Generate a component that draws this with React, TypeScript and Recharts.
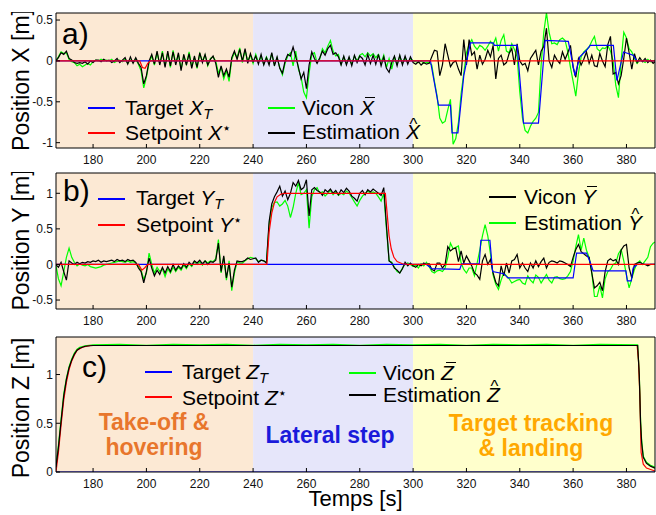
import React from 'react';
import { LineChart, Line, XAxis, YAxis, ReferenceArea } from 'recharts';

type Pt = [number, number];

// time axis (s) and flight phases
const T0 = 166; // first sample of the 1 s grids below
const X_DOMAIN: [number, number] = [166.1, 390.7];
const X_TICKS = [180, 200, 220, 240, 260, 280, 300, 320, 340, 360, 380];
const PHASE_EDGES = [166.1, 240, 300, 390.7];

// a) position X [m]
const X_VICON = [
  0.0, 0.05, 0.11, 0.09, 0.1, 0.02, -0.01, -0.02, -0.06, -0.04,
  -0.07, -0.05, -0.03, -0.05, -0.01, 0.01, 0.0, 0.02, 0.0, 0.01,
  0.0, 0.02, -0.02, 0.0, 0.01, -0.01, 0.02, -0.03, 0.01, -0.02,
  0.02, -0.04, -0.12, -0.33, -0.2, -0.02, 0.06, -0.05, 0.1, -0.04,
  0.12, -0.06, 0.1, -0.08, 0.13, -0.03, 0.08, -0.1, 0.06, -0.04,
  0.11, -0.07, 0.04, -0.09, 0.09, 0.0, 0.07, -0.06, 0.03, 0.05,
  0.0, -0.15, -0.08, -0.22, -0.12, -0.25, 0.02, 0.1, 0.04, 0.16,
  -0.02, 0.13, 0.0, 0.07, -0.03, 0.08, -0.02, 0.06, -0.04, 0.05,
  -0.03, 0.09, -0.05, 0.04, -0.08, -0.17, -0.03, 0.06, 0.1, -0.06,
  0.12, -0.1, -0.2, -0.38, -0.45, -0.15, 0.08, 0.1, -0.02, 0.02,
  0.15, 0.1, 0.18, 0.25, 0.12, 0.06, 0.08, -0.04, 0.05, -0.03,
  0.04, -0.04, 0.06, 0.0, 0.07, 0.09, 0.05, 0.1, 0.06, 0.09,
  0.04, 0.08, -0.02, 0.07, -0.08, 0.03, -0.1, 0.05, -0.04, 0.06,
  -0.03, 0.04, -0.02, 0.03, 0.0, -0.01, -0.02, 0.0, -0.03, -0.02,
  -0.02, -0.05, -0.25, -0.43, -0.7, -0.76, -0.74, -0.6, -0.47, -1.02,
  -0.95, -0.75, -0.4, -0.15, 0.1, 0.2, 0.26, 0.18, 0.14, 0.19,
  0.17, 0.13, 0.18, 0.24, 0.2, 0.28, 0.12, 0.25, 0.32, 0.12,
  0.1, 0.21, 0.14, 0.05, -0.38, -0.7, -0.85, -0.88, -0.8, -0.74,
  -0.7, -0.63, -0.05, 0.35, 0.59, 0.35, 0.21, 0.22, 0.2, 0.26,
  0.28, 0.25, 0.11, -0.08, -0.25, -0.43, -0.15, 0.05, 0.11, 0.14,
  0.17, 0.24, 0.3, 0.15, 0.12, 0.16, 0.15, 0.19, 0.12, 0.0,
  -0.3, -0.45, 0.0, 0.35, 0.28, 0.15, 0.11, 0.03, -0.03, 0.01,
  0.0, -0.02, 0.02, -0.01, 0.0, 0.01,
];
const X_EST = [
  0.0, 0.04, 0.1, 0.08, 0.12, 0.03, 0.01, -0.02, -0.03, -0.02,
  -0.03, -0.01, -0.04, 0.0, -0.02, 0.01, 0.01, -0.01, 0.02, 0.0,
  0.01, -0.02, 0.0, 0.03, -0.02, 0.01, 0.04, -0.04, 0.05, -0.03,
  0.04, -0.03, -0.08, -0.28, -0.18, 0.0, 0.08, -0.04, 0.12, -0.05,
  0.1, -0.08, 0.12, -0.06, 0.11, -0.05, 0.1, -0.12, 0.08, -0.05,
  0.09, -0.09, 0.06, -0.08, 0.1, -0.02, 0.08, -0.05, 0.02, 0.06,
  -0.03, -0.2, -0.06, -0.18, -0.1, -0.2, 0.04, 0.12, 0.02, 0.14,
  0.0, 0.15, -0.03, 0.09, -0.01, 0.06, -0.04, 0.08, -0.05, 0.04,
  -0.05, 0.1, -0.06, 0.05, -0.09, -0.15, 0.0, 0.08, 0.06, 0.17,
  0.05, -0.08, -0.22, -0.14, -0.34, -0.05, 0.11, 0.03, -0.03, 0.04,
  0.12, 0.07, 0.15, 0.19, 0.08, 0.1, 0.05, -0.05, 0.06, -0.05,
  0.05, -0.06, 0.07, -0.02, 0.06, 0.03, -0.05, 0.08, -0.03, 0.07,
  -0.04, 0.08, -0.06, 0.05, -0.09, -0.14, -0.02, 0.06, -0.06, 0.07,
  -0.05, 0.06, -0.04, 0.05, -0.02, -0.04, -0.01, -0.05, -0.02, -0.04,
  -0.03, 0.05, 0.13, 0.12, -0.18, -0.05, 0.21, 0.07, -0.07, -0.02,
  0.0, -0.1, -0.18, 0.26, -0.05, 0.26, 0.07, 0.11, -0.1, 0.07,
  -0.04, 0.02, 0.13, 0.05, 0.19, -0.22, 0.03, 0.07, -0.05, -0.02,
  0.09, 0.15, -0.05, 0.21, 0.0, -0.05, -0.03, -0.12, 0.03, 0.08,
  0.13, -0.05, 0.12, 0.18, 0.4, 0.0, -0.08, 0.07, 0.01, -0.03,
  0.11, 0.02, 0.1, 0.19, -0.08, -0.2, 0.03, -0.05, 0.02, 0.11,
  -0.03, 0.07, -0.06, -0.07, 0.09, 0.0, -0.07, 0.2, 0.3, -0.16,
  -0.14, -0.28, -0.18, 0.03, 0.28, 0.1, -0.1, 0.09, -0.02, 0.04,
  -0.01, 0.03, -0.02, 0.01, -0.03, 0.0,
];
const X_TARGET: Pt[] = [
  [166.1, 0], [306.5, 0], [309.5, -0.54], [314, -0.54], [314.6, -0.88], [316.8, -0.88],
  [319, -0.18], [321.5, 0.22], [330, 0.22], [330.5, 0.19], [339, 0.19], [341.4, -0.76],
  [347, -0.76], [349.5, 0.25], [358.2, 0.24], [360.7, -0.18], [362.5, 0.05], [365, 0.13],
  [366.4, 0.19], [375.1, 0.19], [376.4, -0.24], [378.9, 0.11], [382.5, 0.07], [383.9, 0],
  [390.7, 0],
];
const X_SETPOINT: Pt[] = [
  [166.1, 0], [197.5, 0], [198.5, -0.08], [199.5, -0.09], [200.5, -0.03], [201.5, 0], [390.7, 0],
];

// b) position Y [m]
const Y_VICON = [
  0.0, -0.04, 0.03, -0.1, -0.22, 0.05, 0.02, 0.0, 0.03, 0.01,
  0.03, 0.02, 0.04, 0.03, 0.05, 0.04, 0.06, 0.03, 0.05, 0.04,
  0.05, 0.06, 0.04, 0.07, 0.05, 0.06, 0.04, 0.07, 0.05, 0.06,
  0.03, -0.05, -0.1, -0.26, -0.1, 0.09, -0.05, -0.16, -0.08, -0.14,
  -0.04, -0.12, -0.03, -0.1, 0.0, -0.08, -0.02, -0.06, 0.01, -0.04,
  0.03, -0.01, 0.05, 0.02, 0.06, 0.01, 0.05, 0.0, 0.04, 0.03,
  0.06, 0.3, -0.1, 0.12, -0.19, 0.02, -0.32, -0.08, 0.05, 0.04,
  0.04, 0.06, 0.09, 0.07, 0.08, 0.09, 0.03, 0.06, 0.05, 0.02,
  0.6, 0.85, 0.95, 1.02, 1.1, 0.96, 1.03, 0.91, 1.0, 1.15,
  1.1, 1.18, 1.05, 1.08, 1.19, 0.68, 1.05, 1.08, 1.04, 1.02,
  0.97, 1.05, 1.02, 1.06, 1.0, 1.04, 0.98, 1.05, 1.01, 1.07,
  1.03, 0.96, 0.93, 0.89, 1.0, 1.04, 0.98, 1.05, 1.02, 1.06,
  1.03, 1.0, 0.97, 1.08, 0.55, 0.05, 0.02, -0.05, -0.08, -0.12,
  -0.06, 0.03, -0.02, 0.02, -0.02, -0.04, 0.0, -0.02, 0.02, 0.0,
  0.01, -0.07, -0.09, 0.02, 0.02, -0.05, 0.0, 0.25, 0.19, 0.22,
  0.23, 0.04, 0.19, 0.02, 0.12, 0.05,
  -0.02, -0.12, -0.15, -0.21, 0.05, 0.14, 0.0, 0.07, -0.12,
  -0.25, -0.3, -0.02, -0.16, 0.02, -0.12, 0.05, 0.07, 0.14, -0.05,
  0.02, -0.05, -0.1, 0.02, -0.05, 0.05, -0.03, 0.04, 0.09, -0.05,
  0.03, 0.05, 0.04, 0.02, 0.05, 0.04, 0.02, 0.0, -0.03, 0.1,
  0.21, 0.28, 0.18, 0.15, 0.12,
  0.1, -0.12, -0.33, -0.3, -0.25, -0.37, -0.1, 0.05,
  0.08, 0.05, 0.07, 0.0, 0.2, 0.26, 0.28, -0.05, -0.19, 0.0,
  0.02, 0.03, 0.01, 0.0, -0.02, 0.0, 0.0, 0.0,
];
const Y_EST = [
  0.0, -0.2, -0.3, -0.1, 0.1, 0.23, 0.1, 0.03, -0.02, 0.01,
  -0.01, -0.02, 0.0, -0.03, -0.04, -0.05, -0.04, -0.03, -0.01, 0.0,
  0.01, 0.02, 0.03, 0.04, 0.05, 0.04, 0.03, 0.05, 0.03, 0.04,
  0.02, -0.03, -0.08, -0.21, -0.12, 0.16, 0.0, -0.12, -0.04, -0.1,
  -0.06, -0.17, -0.06, -0.12, -0.04, -0.1, -0.04, -0.08, -0.01, -0.06,
  0.01, -0.03, 0.04, 0.0, 0.04, -0.01, 0.05, 0.02, 0.05, 0.04,
  0.08, 0.35, -0.12, 0.1, -0.22, 0.05, -0.37, -0.12, 0.04, 0.02,
  0.02, 0.05, 0.08, 0.1, 0.09, 0.08, 0.04, 0.06, 0.05, 0.03,
  0.55, 0.8, 0.87, 0.88, 0.82, 0.85, 0.9, 0.82, 0.66, 0.8,
  1.0, 1.15, 0.98, 1.0, 1.05, 0.51, 0.95, 1.05, 1.08, 1.0,
  1.02, 0.96, 1.0, 1.04, 0.98, 1.02, 0.97, 1.0, 0.98, 1.03,
  1.0, 0.94, 0.88, 0.82, 0.9, 0.96, 1.0, 1.03, 1.0, 1.02,
  1.0, 0.95, 0.89, 1.0, 0.5, 0.05, 0.03, -0.04, -0.1, -0.12,
  -0.05, 0.0, 0.02, 0.0, -0.03, -0.01, -0.05, 0.01, -0.02, 0.03,
  -0.03, -0.1, -0.12, -0.09, -0.08, -0.1, -0.05, 0.1, 0.3, 0.22,
  0.24, 0.26, 0.02, -0.07, -0.12, -0.05,
  -0.05, -0.16, 0.02, 0.2, 0.4, 0.56, 0.4, 0.15, -0.15,
  -0.28, -0.35, -0.22, -0.12, -0.16, -0.2, -0.26, -0.24, -0.22, -0.21,
  -0.26, -0.28, -0.16, -0.22, -0.26, -0.15, -0.18, -0.26, -0.2, -0.14,
  -0.22, -0.26, -0.18, -0.17, -0.2, -0.21, -0.2, -0.16, -0.1, 0.05,
  0.25, 0.42, 0.2, 0.37, 0.2,
  0.1, -0.12, -0.45, -0.45, -0.3, -0.47, -0.2, -0.1,
  -0.07, 0.0, 0.02, 0.15, 0.21, 0.05, -0.15, -0.33, -0.2, -0.07,
  0.02, 0.05, 0.0, 0.05, 0.1, 0.25, 0.3, 0.32,
];
const Y_TARGET: Pt[] = [
  [166.1, 0], [305, 0], [307, -0.06], [317.5, -0.07], [318.2, 0.01], [324.8, 0.01],
  [325.4, 0.34], [328.8, 0.34], [329.8, -0.1], [334, -0.13], [335.5, -0.19], [360, -0.19],
  [361.3, 0.16], [365, 0.16], [366.5, 0.02], [367.5, -0.09], [379.8, -0.09], [380.3, -0.23],
  [381.8, -0.23], [382.5, -0.05], [384, 0], [390.7, 0],
];
const Y_SETPOINT: Pt[] = [
  [166.1, 0], [197, 0], [198.3, -0.08], [199.3, -0.05], [200.5, 0], [245.2, 0], [246, 0.45],
  [247, 0.72], [248, 0.87], [249, 0.95], [250.5, 0.99], [252, 1], [289.6, 1], [290.3, 0.7],
  [291, 0.4], [291.8, 0.22], [292.8, 0.1], [294, 0.04], [296, 0.01], [298, 0], [390.7, 0],
];

// c) position Z [m]
const Z_VICON: Pt[] = [
  [166.1, 0.06], [167, 0.27], [168, 0.54], [169, 0.8], [170, 0.96], [171, 1.08], [172, 1.16],
  [173, 1.22], [174, 1.26], [175, 1.28], [177, 1.295], [180, 1.305], [190, 1.31], [200, 1.3],
  [210, 1.31], [220, 1.305], [230, 1.31], [240, 1.3], [250, 1.31], [260, 1.305], [270, 1.31],
  [280, 1.3], [290, 1.31], [300, 1.305], [310, 1.31], [320, 1.3], [330, 1.31], [340, 1.305],
  [350, 1.31], [360, 1.3], [370, 1.31], [384.2, 1.305], [384.8, 1.0], [385.3, 0.52],
  [385.7, 0.32], [386.3, 0.16], [387.5, 0.1], [389, 0.07], [390.7, 0.05],
];
const Z_EST: Pt[] = [
  [166.1, 0.05], [167, 0.25], [168, 0.52], [169, 0.78], [170, 0.95], [171, 1.07], [172, 1.15],
  [173, 1.21], [174, 1.25], [175, 1.27], [177, 1.29], [180, 1.298], [384.2, 1.298],
  [384.8, 1.0], [385.3, 0.5], [385.7, 0.3], [386.3, 0.15], [387.5, 0.09], [389, 0.06],
  [390.7, 0.04],
];
const Z_TARGET: Pt[] = [[166.1, 0], [390.7, 0]];
const Z_SETPOINT: Pt[] = [
  [166.1, 0], [167, 0.2], [168, 0.48], [169, 0.74], [170, 0.92], [171, 1.05], [172, 1.14],
  [173, 1.2], [174, 1.25], [176, 1.28], [179, 1.298], [384, 1.298], [384.5, 1.15], [385, 0.8],
  [385.5, 0.2], [386.3, 0.08], [387.5, 0.04], [390.7, 0.01],
];

const BLUE = '#0000ff';
const RED = '#ff0000';
const GREEN = '#00ff00';
const BLACK = '#000000';
const PHASE_FILLS = ['#fce9d4', '#e6e6fa', '#ffffcc'];
// no serif face is available in the sandbox, Liberation Sans keeps the widths closest
const TEXT_FONT = '"Liberation Sans", Arial, sans-serif';
const SANS = '"Liberation Sans", Arial, sans-serif';

const grid = (vals: number[]) => vals.map((v, i) => ({ t: T0 + i, v }));
const pts = (p: Pt[]) => p.map(([t, v]) => ({ t, v }));

type Series = { name: string; data: { t: number; v: number }[]; color: string };

const TICK = { fontSize: 12, fontFamily: SANS, fill: '#111' };
const AXIS_LINE = { stroke: '#000', strokeWidth: 1 };

function yTitle(text: string, shift: number) {
  return (props: any) => {
    const vb = props.viewBox || {};
    const x = 29;
    const y = (vb.y || 0) + (vb.height || 0) / 2 + shift;
    return (
      <text x={x} y={y} transform={`rotate(-90 ${x} ${y})`} textAnchor="middle"
        fontFamily={TEXT_FONT} fontSize={23} fill="#000">
        {text}
      </text>
    );
  };
}

function xTitle(props: any) {
  const vb = props.viewBox || {};
  return (
    <text x={(vb.x || 0) + (vb.width || 0) / 2} y={(vb.y || 0) + 34} textAnchor="middle"
      fontFamily={TEXT_FONT} fontSize={22} fill="#000">
      Temps [s]
    </text>
  );
}

interface PanelProps {
  top: number;
  plotHeight: number;
  xHeight: number;
  yDomain: [number, number];
  yTicks: number[];
  series: Series[];
  title: string;
  titleShift: number;
  showXTitle?: boolean;
}

function Panel({ top, plotHeight, xHeight, yDomain, yTicks, series, title, titleShift, showXTitle }: PanelProps) {
  return (
    <div style={{ position: 'absolute', left: 0, top: top - 1 }}>
      <LineChart width={656} height={plotHeight + 1 + xHeight} margin={{ top: 0, right: 0, bottom: 0, left: 0 }}>
        <XAxis dataKey="t" type="number" domain={X_DOMAIN} ticks={X_TICKS} interval={0} allowDataOverflow
          height={xHeight} tickSize={-4} tickMargin={11} tick={TICK} axisLine={AXIS_LINE} tickLine={AXIS_LINE}
          label={showXTitle ? xTitle : undefined} />
        <XAxis xAxisId="top" orientation="top" dataKey="t" type="number" domain={X_DOMAIN} ticks={X_TICKS}
          interval={0} allowDataOverflow height={1} tickSize={-4} tick={false} axisLine={AXIS_LINE} tickLine={AXIS_LINE} />
        <YAxis type="number" domain={yDomain} ticks={yTicks} interval={0} allowDataOverflow width={56}
          tickSize={-4} tickMargin={7} tick={TICK} axisLine={AXIS_LINE} tickLine={AXIS_LINE}
          label={yTitle(title, titleShift)} />
        <YAxis yAxisId="right" orientation="right" type="number" domain={yDomain} ticks={yTicks} interval={0}
          allowDataOverflow width={1} tickSize={-4} tick={false} axisLine={AXIS_LINE} tickLine={AXIS_LINE} />
        {PHASE_FILLS.map((fill, i) => (
          <ReferenceArea key={fill} x1={PHASE_EDGES[i]} x2={PHASE_EDGES[i + 1]} fill={fill} fillOpacity={1}
            stroke="none" ifOverflow="hidden" />
        ))}
        {series.map((s) => (
          <Line key={s.name} data={s.data} dataKey="v" type="linear" stroke={s.color} strokeWidth={1.2}
            dot={false} activeDot={false} isAnimationActive={false} />
        ))}
      </LineChart>
    </div>
  );
}

function MathVar({ v, sub, star, accent }: { v: string; sub?: string; star?: boolean; accent?: 'bar' | 'hat' }) {
  return (
    <span style={{ display: 'inline-block', position: 'relative', fontStyle: 'italic' }}>
      {v}
      {accent === 'bar' && (
        <span style={{ position: 'absolute', left: '0.22em', width: '0.5em', top: '0.03em', height: 1, background: '#000' }} />
      )}
      {accent === 'hat' && (
        <span style={{ position: 'absolute', left: '0.22em', top: '-0.24em', fontStyle: 'normal', fontSize: '0.8em' }}>^</span>
      )}
      {sub && <span style={{ fontSize: '0.7em', verticalAlign: '-0.28em' }}>{sub}</span>}
      {star && (
        <span style={{ fontStyle: 'normal', fontSize: '0.7em', verticalAlign: '0.5em', fontFamily: '"DejaVu Sans", sans-serif' }}>⋆</span>
      )}
    </span>
  );
}

function Key({ x, y, textX, color, children }: { x: number; y: number; textX: number; color: string; children: React.ReactNode }) {
  return (
    <>
      <div style={{ position: 'absolute', left: x, top: Math.round(y) - 1, width: 27, height: 1.5, background: color }} />
      <div style={{ position: 'absolute', left: textX, top: y - 11.5, fontFamily: TEXT_FONT, fontSize: 21, lineHeight: 1, whiteSpace: 'nowrap', color: '#000' }}>
        {children}
      </div>
    </>
  );
}

const panelLetter = (left: number, top: number, text: string) => (
  <div style={{ position: 'absolute', left, top, fontFamily: SANS, fontSize: 30, lineHeight: 1, color: '#000' }}>{text}</div>
);

const phaseText = (center: number, top: number, color: string, lines: string[]) => (
  <div style={{ position: 'absolute', left: center - 120, width: 240, top, textAlign: 'center', fontFamily: TEXT_FONT,
    fontWeight: 'bold', fontSize: 23, lineHeight: '25px', color, whiteSpace: 'nowrap' }}>
    {lines.map((l) => <div key={l}>{l}</div>)}
  </div>
);

export default function App() {
  const seriesX: Series[] = [
    { name: 'vicon', data: grid(X_VICON), color: GREEN },
    { name: 'est', data: grid(X_EST), color: BLACK },
    { name: 'target', data: pts(X_TARGET), color: BLUE },
    { name: 'setpoint', data: pts(X_SETPOINT), color: RED },
  ];
  const seriesY: Series[] = [
    { name: 'est', data: grid(Y_EST), color: GREEN },
    { name: 'vicon', data: grid(Y_VICON), color: BLACK },
    { name: 'target', data: pts(Y_TARGET), color: BLUE },
    { name: 'setpoint', data: pts(Y_SETPOINT), color: RED },
  ];
  const seriesZ: Series[] = [
    { name: 'vicon', data: pts(Z_VICON), color: GREEN },
    { name: 'setpoint', data: pts(Z_SETPOINT), color: RED },
    { name: 'est', data: pts(Z_EST), color: BLACK },
    { name: 'target', data: pts(Z_TARGET), color: BLUE },
  ];

  return (
    <div style={{ position: 'relative', width: 656, height: 515, background: '#fff', overflow: 'hidden' }}>
      <style>{'body{margin:0}'}</style>
      <Panel top={13} plotHeight={135} xHeight={22} yDomain={[-1.065, 0.586]} yTicks={[-1, -0.5, 0, 0.5]}
        series={seriesX} title="Position X [m]" titleShift={-0.5} />
      <Panel top={173} plotHeight={136} xHeight={22} yDomain={[-0.626, 1.285]} yTicks={[-0.5, 0, 0.5, 1]}
        series={seriesY} title="Position Y [m]" titleShift={-1} />
      <Panel top={337} plotHeight={135} xHeight={43} yDomain={[0, 1.385]} yTicks={[0, 0.5, 1]}
        series={seriesZ} title="Position Z [m]" titleShift={3.5} showXTitle />

      {panelLetter(62, 18.6, 'a)')}
      {panelLetter(63, 176, 'b)')}
      {panelLetter(82, 352, 'c)')}

      <Key x={88} y={108} textX={125} color={BLUE}>Target <MathVar v="X" sub="T" /></Key>
      <Key x={88} y={132.5} textX={125} color={RED}>Setpoint <MathVar v="X" star /></Key>
      <Key x={268} y={108} textX={302} color={GREEN}>Vicon <MathVar v="X" accent="bar" /></Key>
      <Key x={268} y={132.5} textX={302} color={BLACK}>Estimation <MathVar v="X" accent="hat" /></Key>

      <Key x={98} y={198.5} textX={136} color={BLUE}>Target <MathVar v="Y" sub="T" /></Key>
      <Key x={98} y={224.5} textX={136} color={RED}>Setpoint <MathVar v="Y" star /></Key>
      <Key x={489} y={197} textX={524} color={BLACK}>Vicon <MathVar v="Y" accent="bar" /></Key>
      <Key x={489} y={223} textX={524} color={GREEN}>Estimation <MathVar v="Y" accent="hat" /></Key>

      <Key x={145} y={372} textX={182} color={BLUE}>Target <MathVar v="Z" sub="T" /></Key>
      <Key x={145} y={397} textX={182} color={RED}>Setpoint <MathVar v="Z" star /></Key>
      <Key x={349} y={373} textX={383} color={GREEN}>Vicon <MathVar v="Z" accent="bar" /></Key>
      <Key x={349} y={395} textX={383} color={BLACK}>Estimation <MathVar v="Z" accent="hat" /></Key>

      {phaseText(154, 409.5, '#e8762c', ['Take-off &', 'hovering'])}
      {phaseText(330, 422.5, '#1a1adb', ['Lateral step'])}
      {phaseText(531, 411.2, '#ffa800', ['Target tracking', '& landing'])}
    </div>
  );
}
